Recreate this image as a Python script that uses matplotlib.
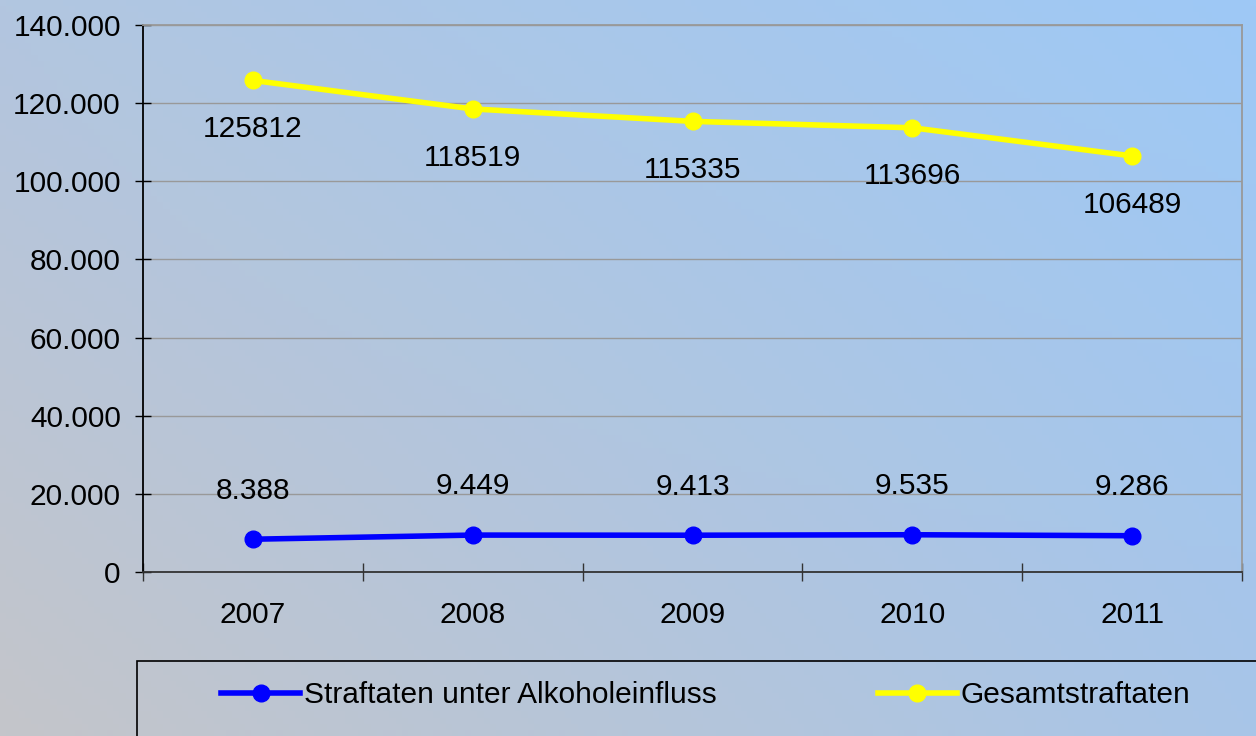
import numpy as np
import matplotlib.pyplot as plt
from matplotlib.patches import Rectangle

plt.rcParams['font.family'] = ['Liberation Sans', 'DejaVu Sans']

# Data
years = ["2007", "2008", "2009", "2010", "2011"]
alkohol = [8388, 9449, 9413, 9535, 9286]
gesamt = [125812, 118519, 115335, 113696, 106489]
alkohol_labels = ["8.388", "9.449", "9.413", "9.535", "9.286"]
gesamt_labels = ["125812", "118519", "115335", "113696", "106489"]
yticks = [0, 20000, 40000, 60000, 80000, 100000, 120000, 140000]
ytick_labels = ["0", "20.000", "40.000", "60.000", "80.000", "100.000", "120.000", "140.000"]

W, H = 1256, 736
FS = 21.5
fig = plt.figure(figsize=(W / 100, H / 100), dpi=100)

# gradient background (grey bottom-left -> light blue top-right)
bg = fig.add_axes([0, 0, 1, 1], zorder=-10)
bg.axis("off")
tl = np.array([178, 198, 224]) / 255
tr = np.array([158, 201, 246]) / 255
bl = np.array([196, 197, 202]) / 255
br = np.array([168, 197, 232]) / 255
u = np.linspace(0, 1, 200)[None, :, None]
v = np.linspace(0, 1, 120)[:, None, None]
img = (1 - v) * ((1 - u) * tl + u * tr) + v * ((1 - u) * bl + u * br)
bg.imshow(img, aspect="auto", extent=[0, 1, 0, 1])
bg.set_xlim(0, 1)
bg.set_ylim(0, 1)

# legend frame
fig.patches.append(Rectangle((137 / W, -0.1), 1.2, (736 - 661) / H + 0.1,
                             transform=fig.transFigure, fill=False,
                             edgecolor="black", linewidth=1.2))

ax = fig.add_axes([143 / W, (H - 572) / H, (1242 - 143) / W, (572 - 25) / H])
ax.set_facecolor("none")
x = np.arange(len(years))

l1, = ax.plot(x, alkohol, color="#0000ff", linewidth=4, marker="o",
              markersize=12, label="Straftaten unter Alkoholeinfluss", zorder=3)
l2, = ax.plot(x, gesamt, color="#ffff00", linewidth=4, marker="o",
              markersize=12, label="Gesamtstraftaten", zorder=3)

for xi, yi, t in zip(x, alkohol, alkohol_labels):
    ax.annotate(t, (xi, yi), xytext=(0, 35), textcoords="offset points",
                ha="center", va="center", fontsize=FS)
for xi, yi, t in zip(x, gesamt, gesamt_labels):
    ax.annotate(t, (xi, yi), xytext=(0, -35), textcoords="offset points",
                ha="center", va="center", fontsize=FS)

ax.set_xlim(-0.5, 4.5)
ax.set_ylim(0, 140000)
ax.set_yticks(yticks)
ax.set_yticklabels(ytick_labels, fontsize=FS)
ax.set_xticks(x)
ax.set_xticklabels(years, fontsize=FS)
ax.set_xticks(np.arange(-0.5, 5, 1), minor=True)
ax.tick_params(axis="x", which="major", length=0, pad=21)
ax.tick_params(axis="x", which="minor", direction="inout", length=13, width=1, color="#333333")
ax.tick_params(axis="y", direction="inout", length=12, width=1, pad=10)
ax.yaxis.grid(True, color="#999999", linewidth=1)
ax.set_axisbelow(True)

ax.spines["left"].set_color("black")
ax.spines["bottom"].set_color("#333333")
ax.spines["top"].set_color("#999999")
ax.spines["right"].set_color("#999999")
for s in ax.spines.values():
    s.set_linewidth(1.3)

fig.legend(handles=[l1, l2], loc="center left", bbox_to_anchor=(209 / W, (H - 695) / H),
           ncol=2, frameon=False, fontsize=FS, handlelength=2.65, handletextpad=0.12,
           columnspacing=5.4, borderaxespad=0)

fig.savefig("out.png", dpi=100)
